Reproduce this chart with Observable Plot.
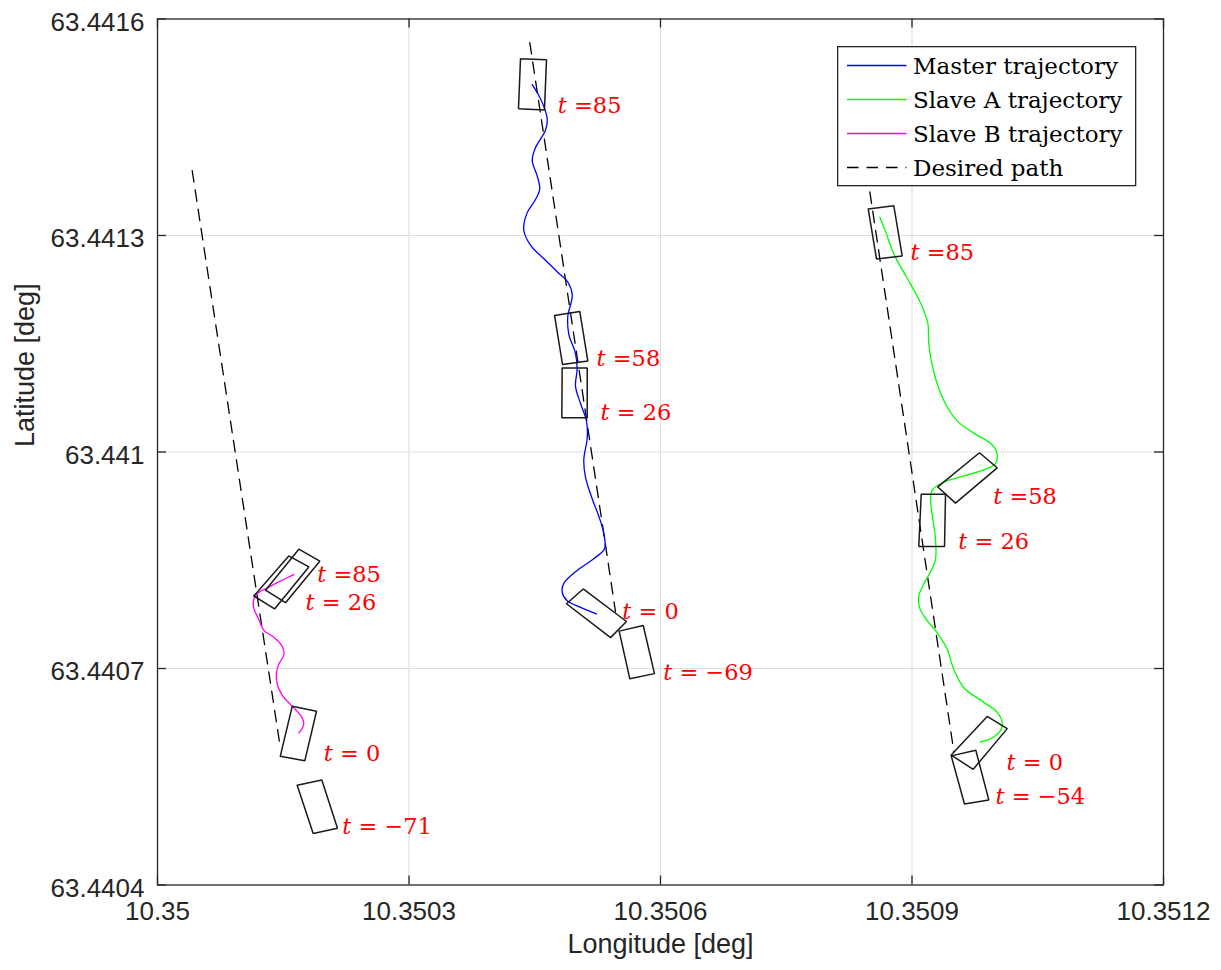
<!DOCTYPE html>
<html><head><meta charset="utf-8">
<script src="https://cdn.jsdelivr.net/npm/d3@7"></script>
<script src="https://cdn.jsdelivr.net/npm/@observablehq/plot@0.6"></script>
<style>
body{margin:0;background:#fff;}
#wrap{position:relative;width:1221px;height:970px;}
#wrap svg{display:block;}
</style></head><body><div id="wrap"></div>
<script>
// ---- axis ticks ----
const xTicks = [10.35, 10.3503, 10.3506, 10.3509, 10.3512];
const xTickLabels = ["10.35", "10.3503", "10.3506", "10.3509", "10.3512"];
const yTicks = [63.4404, 63.4407, 63.441, 63.4413, 63.4416];
const yTickLabels = ["63.4404", "63.4407", "63.441", "63.4413", "63.4416"];

// ---- trajectories (lon, lat) ----
const masterLon = [10.3505237, 10.3505046, 10.3504887, 10.3504827, 10.3504847, 10.3505006, 10.3505204, 10.3505332, 10.3505324, 10.3505264, 10.3505185, 10.3505105, 10.3505085, 10.3505126, 10.3505117, 10.3505046, 10.3504986, 10.3505006, 10.3504986, 10.3504906, 10.3504894, 10.3504947, 10.3504894, 10.3504787, 10.3504628, 10.3504449, 10.3504369, 10.3504410, 10.3504509, 10.3504560, 10.3504529, 10.3504470, 10.3504509, 10.3504628, 10.3504649, 10.3504608, 10.3504548, 10.3504470];
const masterLat = [63.4407758, 63.4407848, 63.4407938, 63.4408059, 63.4408179, 63.4408359, 63.4408522, 63.4408660, 63.4408871, 63.4409110, 63.4409352, 63.4409651, 63.4409892, 63.4410193, 63.4410432, 63.4410672, 63.4410913, 63.4411154, 63.4411364, 63.4411634, 63.4411875, 63.4412176, 63.4412356, 63.4412476, 63.4412656, 63.4412866, 63.4413076, 63.4413317, 63.4413498, 63.4413647, 63.4413827, 63.4414038, 63.4414218, 63.4414459, 63.4414609, 63.4414789, 63.4414940, 63.4415090];

const slaveALon = [10.3509817, 10.3509936, 10.3510056, 10.3510076, 10.3510016, 10.3509856, 10.3509618, 10.3509499, 10.3509420, 10.3509301, 10.3509181, 10.3509093, 10.3509081, 10.3509141, 10.3509221, 10.3509280, 10.3509280, 10.3509241, 10.3509221, 10.3509241, 10.3509379, 10.3509618, 10.3509856, 10.3509996, 10.3510008, 10.3509936, 10.3509737, 10.3509539, 10.3509379, 10.3509260, 10.3509200, 10.3509189, 10.3509101, 10.3508943, 10.3508783, 10.3508684, 10.3508616];
const slaveALat = [63.4405982, 63.4406026, 63.4406140, 63.4406252, 63.4406393, 63.4406534, 63.4406733, 63.4406986, 63.4407269, 63.4407495, 63.4407664, 63.4407833, 63.4408003, 63.4408172, 63.4408341, 63.4408510, 63.4408793, 63.4409133, 63.4409358, 63.4409471, 63.4409584, 63.4409669, 63.4409753, 63.4409838, 63.4410007, 63.4410121, 63.4410262, 63.4410431, 63.4410714, 63.4411109, 63.4411504, 63.4411786, 63.4412069, 63.4412407, 63.4412745, 63.4413057, 63.4413254];

const slaveBLon = [10.3501686, 10.3501745, 10.3501706, 10.3501607, 10.3501487, 10.3501428, 10.3501419, 10.3501447, 10.3501507, 10.3501487, 10.3501387, 10.3501268, 10.3501208, 10.3501149, 10.3501149, 10.3501208, 10.3501309, 10.3501428, 10.3501547, 10.3501626];
const slaveBLat = [63.4406105, 63.4406228, 63.4406353, 63.4406476, 63.4406631, 63.4406785, 63.4406940, 63.4407064, 63.4407187, 63.4407312, 63.4407435, 63.4407528, 63.4407682, 63.4407837, 63.4407960, 63.4408053, 63.4408116, 63.4408190, 63.4408258, 63.4408301];

// ---- desired paths ----
const desiredMasterLon = [10.3504441, 10.3505463];
const desiredMasterLat = [63.4415673, 63.4407790];
const desiredALon = [10.3508497, 10.3509499];
const desiredALat = [63.4413604, 63.4405850];
const desiredBLon = [10.3500414, 10.3501459];
const desiredBLat = [63.4413899, 63.4405950];

// ---- vessel outlines at time stamps (corner lon/lat) ----
const masterOutlines = [
  {t: 85, lon: [10.3504330, 10.3504640, 10.3504616, 10.3504306], lat: [63.4415450, 63.4415437, 63.4414740, 63.4414758]},
  {t: 58, lon: [10.3504736, 10.3505037, 10.3505133, 10.3504831], lat: [63.4411893, 63.4411947, 63.4411262, 63.4411214]},
  {t: 26, lon: [10.3504827, 10.3505126, 10.3505126, 10.3504823], lat: [63.4411165, 63.4411165, 63.4410474, 63.4410474]},
  {t: 0, lon: [10.3504879, 10.3505078, 10.3505594, 10.3505404], lat: [63.4407897, 63.4408102, 63.4407651, 63.4407428]},
  {t: -69, lon: [10.3505507, 10.3505794, 10.3505928, 10.3505634], lat: [63.4407518, 63.4407596, 63.4406929, 63.4406857]}
];
const slaveAOutlines = [
  {t: 85, lon: [10.3508478, 10.3508783, 10.3508883, 10.3508577], lat: [63.4413367, 63.4413412, 63.4412717, 63.4412673]},
  {t: 58, lon: [10.3509308, 10.3509805, 10.3510016, 10.3509519], lat: [63.4409516, 63.4409990, 63.4409781, 63.4409291]},
  {t: 26, lon: [10.3509110, 10.3509400, 10.3509388, 10.3509081], lat: [63.4409414, 63.4409414, 63.4408692, 63.4408692]},
  {t: 0, lon: [10.3509468, 10.3509897, 10.3510136, 10.3509730], lat: [63.4405800, 63.4406336, 63.4406167, 63.4405603]},
  {t: -54, lon: [10.3509468, 10.3509761, 10.3509916, 10.3509626], lat: [63.4405789, 63.4405868, 63.4405179, 63.4405122]}
];
const slaveBOutlines = [
  {t: 85, lon: [10.3501288, 10.3501686, 10.3501936, 10.3501527], lat: [63.4408085, 63.4408653, 63.4408487, 63.4407912]},
  {t: 26, lon: [10.3501149, 10.3501566, 10.3501805, 10.3501396], lat: [63.4408005, 63.4408560, 63.4408407, 63.4407825]},
  {t: 0, lon: [10.3501607, 10.3501897, 10.3501757, 10.3501464], lat: [63.4406476, 63.4406408, 63.4405721, 63.4405783]},
  {t: -71, lon: [10.3501666, 10.3501960, 10.3502147, 10.3501857], lat: [63.4405382, 63.4405455, 63.4404787, 63.4404714]}
];

// ---- time labels (text after the italic t, anchor lon/lat = baseline start) ----
const masterLabels = [
  {rest: "=85", lon: 10.3504775, lat: 63.4414699},
  {rest: "=58", lon: 10.3505237, lat: 63.4411185},
  {rest: "= 26", lon: 10.3505284, lat: 63.4410437},
  {rest: "= 0", lon: 10.3505543, lat: 63.4407686},
  {rest: "= \u221269", lon: 10.3506032, lat: 63.4406843}
];
const slaveALabels = [
  {rest: "=85", lon: 10.3508982, lat: 63.4412661},
  {rest: "=58", lon: 10.3509969, lat: 63.4409273},
  {rest: "= 26", lon: 10.3509551, lat: 63.4408652},
  {rest: "= 0", lon: 10.3510127, lat: 63.4405587},
  {rest: "= \u221254", lon: 10.3509996, lat: 63.4405122}
];
const slaveBLabels = [
  {rest: "=85", lon: 10.3501905, lat: 63.4408192},
  {rest: "= 26", lon: 10.3501765, lat: 63.4407804},
  {rest: "= 0", lon: 10.3501984, lat: 63.4405725},
  {rest: "= \u221271", lon: 10.3502203, lat: 63.4404700}
];

const legendItems = [
  {label: "Master trajectory", color: "#0000ff", dash: null},
  {label: "Slave A trajectory", color: "#00ff00", dash: null},
  {label: "Slave B trajectory", color: "#ff00ff", dash: null},
  {label: "Desired path", color: "#000000", dash: "11.5,8"}
];

// ---- build tables ----
const zip = (lon, lat, id) => lon.map((v, i) => ({lon: v, lat: lat[i], id}));
const master = zip(masterLon, masterLat, "m");
const slaveA = zip(slaveALon, slaveALat, "a");
const slaveB = zip(slaveBLon, slaveBLat, "b");
const desired = [
  ...zip(desiredMasterLon, desiredMasterLat, "m"),
  ...zip(desiredALon, desiredALat, "a"),
  ...zip(desiredBLon, desiredBLat, "b")
];
const outlines = [];
[["m", masterOutlines], ["a", slaveAOutlines], ["b", slaveBOutlines]].forEach(([v, arr]) => {
  arr.forEach((o) => {
    const id = v + o.t;
    for (let k = 0; k <= 4; k++) outlines.push({id, lon: o.lon[k % 4], lat: o.lat[k % 4]});
  });
});
const labels = [...masterLabels, ...slaveALabels, ...slaveBLabels];

const W = 1221, H = 970, mL = 157, mR = 58, mT = 18.5, mB = 85.5;
const fw = W - mL - mR, fh = H - mT - mB, tick = 9;
const axisColor = "#262626";
const sans = "'Liberation Sans', Arial, Helvetica, sans-serif";
const serif = "'DejaVu Serif', serif";

const plot = Plot.plot({
  width: W, height: H,
  marginLeft: mL, marginRight: mR, marginTop: mT, marginBottom: mB,
  x: {domain: [10.35, 10.3512], axis: null},
  y: {domain: [63.4404, 63.4416], axis: null},
  style: {background: "white", fontFamily: sans, overflow: "visible"},
  marks: [
    // grid
    Plot.ruleX(xTicks.slice(1, -1), {stroke: "#dfdfdf", strokeWidth: 1.2}),
    Plot.ruleY(yTicks.slice(1, -1), {stroke: "#dfdfdf", strokeWidth: 1.2}),
    // inward ticks
    Plot.ruleX(xTicks, {insetTop: fh - tick, stroke: axisColor, strokeWidth: 1.3}),
    Plot.ruleX(xTicks, {insetBottom: fh - tick, stroke: axisColor, strokeWidth: 1.3}),
    Plot.ruleY(yTicks, {insetRight: fw - tick, stroke: axisColor, strokeWidth: 1.3}),
    Plot.ruleY(yTicks, {insetLeft: fw - tick, stroke: axisColor, strokeWidth: 1.3}),
    // desired paths
    Plot.line(desired, {x: "lon", y: "lat", z: "id", stroke: "#000", strokeWidth: 1.3, strokeDasharray: "11.5,8"}),
    // trajectories
    Plot.line(master, {x: "lon", y: "lat", stroke: "#0000ff", strokeWidth: 1.3, curve: "catmull-rom"}),
    Plot.line(slaveA, {x: "lon", y: "lat", stroke: "#00ff00", strokeWidth: 1.3, curve: "catmull-rom"}),
    Plot.line(slaveB, {x: "lon", y: "lat", stroke: "#ff00ff", strokeWidth: 1.3, curve: "catmull-rom"}),
    // vessel outlines
    Plot.line(outlines, {x: "lon", y: "lat", z: "id", stroke: "#1a1a1a", strokeWidth: 1.5, strokeLinejoin: "miter"}),
    // time labels
    Plot.text(labels, {x: "lon", y: "lat", text: () => "t", fontStyle: "italic", fontFamily: serif, fontSize: 22.5, fill: "#ff0000", textAnchor: "start", dy: -7.2}),
    Plot.text(labels, {x: "lon", y: "lat", text: "rest", fontFamily: serif, fontSize: 22.5, fill: "#ff0000", textAnchor: "start", dx: 16.2, dy: -7.2}),
    // frame
    Plot.frame({stroke: axisColor, strokeWidth: 1.3}),
    // tick labels
    Plot.text(xTicks, {x: (d) => d, text: (d, i) => xTickLabels[i], frameAnchor: "bottom", dy: 34.5, fontSize: 26, fill: axisColor}),
    Plot.text(yTicks, {y: (d) => d, text: (d, i) => yTickLabels[i], frameAnchor: "left", textAnchor: "end", dx: -13, dy: 3.5, fontSize: 26, fill: axisColor}),
    // axis titles
    Plot.text(["Longitude [deg]"], {frameAnchor: "bottom", dy: 68, fontSize: 27, fill: axisColor}),
    Plot.text(["Latitude [deg]"], {frameAnchor: "left", rotate: -90, dx: -132, dy: -5, fontSize: 27, fill: axisColor})
  ]
});
const wrap = document.getElementById("wrap");
wrap.appendChild(plot);

// ---- legend (inside axes, top-right) ----
const ns = "http://www.w3.org/2000/svg";
const lg = document.createElementNS(ns, "svg");
lg.setAttribute("width", 300); lg.setAttribute("height", 141);
lg.style.position = "absolute"; lg.style.left = "836.5px"; lg.style.top = "45.5px";
const rect = document.createElementNS(ns, "rect");
rect.setAttribute("x", 0.65); rect.setAttribute("y", 0.65);
rect.setAttribute("width", 298); rect.setAttribute("height", 139);
rect.setAttribute("fill", "white"); rect.setAttribute("stroke", axisColor); rect.setAttribute("stroke-width", 1.3);
lg.appendChild(rect);
legendItems.forEach((it, i) => {
  const yy = 19.5 + i * 34;
  const ln = document.createElementNS(ns, "line");
  ln.setAttribute("x1", 10); ln.setAttribute("x2", 69.5);
  ln.setAttribute("y1", yy); ln.setAttribute("y2", yy);
  ln.setAttribute("stroke", it.color); ln.setAttribute("stroke-width", 1.3);
  if (it.dash) ln.setAttribute("stroke-dasharray", it.dash);
  lg.appendChild(ln);
  const tx = document.createElementNS(ns, "text");
  tx.setAttribute("x", 76); tx.setAttribute("y", yy + 8);
  tx.setAttribute("font-family", serif); tx.setAttribute("font-size", 23);
  tx.setAttribute("fill", "#000");
  tx.textContent = it.label;
  lg.appendChild(tx);
});
wrap.appendChild(lg);
</script>
</body></html>
